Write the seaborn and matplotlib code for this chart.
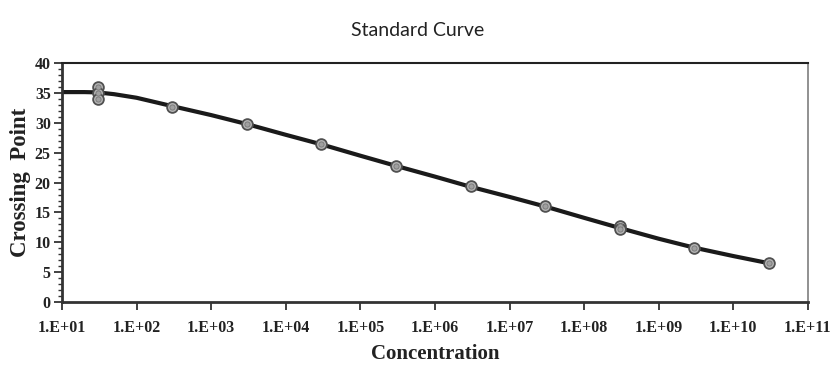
import matplotlib
matplotlib.use('Agg')
import matplotlib.pyplot as plt
import seaborn as sns
import numpy as np
import pandas as pd
from matplotlib.ticker import FixedLocator, MultipleLocator

# Measured standards (concentration, crossing point)
conc = [3e1, 3e1, 3e1, 3e2, 3e3, 3e4, 3e5, 3e6, 3e7, 3e8, 3e8, 3e9, 3e10]
cp = [36.0, 35.0, 34.0, 32.7, 29.8, 26.4, 22.7, 19.4, 16.0, 12.8, 12.2, 9.1, 6.6]

# Fitted curve
curve_x = [1e1, 2e1, 3e1, 5e1, 1e2, 3e2, 1e3, 3e3, 1e4, 3e4, 1e5, 3e5,
           1e6, 3e6, 1e7, 3e7, 1e8, 3e8, 1e9, 3e9, 1e10, 3e10]
curve_y = [35.15, 35.15, 35.1, 34.8, 34.2, 32.8, 31.3, 29.8, 28.0, 26.4, 24.5, 22.8,
           21.0, 19.3, 17.6, 16.0, 14.1, 12.4, 10.6, 9.1, 7.7, 6.5]

xticks = [10.0 ** k for k in range(1, 12)]
xlabels = ['1.E+%02d' % k for k in range(1, 12)]

df_pts = pd.DataFrame({'conc': conc, 'cp': cp})
df_fit = pd.DataFrame({'conc': curve_x, 'cp': curve_y})

sns.set_style('white')
serif = ['Liberation Serif', 'DejaVu Serif']

fig = plt.figure(figsize=(8.32, 3.67), dpi=100)
ax = fig.add_axes([0.0745, 0.177, 0.8965, 0.651])

sns.lineplot(data=df_fit, x='conc', y='cp', ax=ax, color='#1a1a1a', linewidth=3, zorder=2)
sns.scatterplot(data=df_pts, x='conc', y='cp', ax=ax, s=60, color='#b4b4b4',
                edgecolor='#505050', linewidth=1.3, zorder=3)
# inner ring of the markers
sns.scatterplot(data=df_pts, x='conc', y='cp', ax=ax, s=14, color='#a0a0a0',
                edgecolor='#777777', linewidth=0.6, zorder=4)

ax.set_xscale('log')
ax.set_xlim(1e1, 1e11)
ax.set_ylim(0, 40)
ax.xaxis.set_major_locator(FixedLocator(xticks))
ax.xaxis.set_minor_locator(FixedLocator([]))
ax.set_xticklabels(xlabels)
ax.yaxis.set_major_locator(MultipleLocator(5))
ax.yaxis.set_minor_locator(MultipleLocator(1))

ax.tick_params(axis='both', which='major', direction='out', length=6, width=1.3,
               color='#333333', labelsize=11.5, pad=2, left=True, bottom=True)
ax.tick_params(axis='y', which='minor', direction='out', length=3, width=1,
               color='#333333', left=True)
for lab in ax.get_xticklabels() + ax.get_yticklabels():
    lab.set_family(serif)
    lab.set_fontweight('bold')
    lab.set_color('#222222')
ax.tick_params(axis='x', pad=7)

for side in ['left', 'bottom']:
    ax.spines[side].set_color('#333333')
    ax.spines[side].set_linewidth(2)
ax.spines['top'].set_color('#222222')
ax.spines['top'].set_linewidth(1.5)
ax.spines['right'].set_color('#888888')
ax.spines['right'].set_linewidth(1.3)

ax.set_xlabel('Concentration', family=serif, fontweight='bold', fontsize=15,
              color='#222222', labelpad=6)
ax.set_ylabel('Crossing  Point', family=serif, fontweight='bold', fontsize=16.5,
              color='#222222', labelpad=3)
fig.text(0.502, 0.918, 'Standard Curve', ha='center', va='center', fontsize=14,
         family=['Lato', 'DejaVu Sans'], color='#222222')

fig.savefig('out.png', dpi=100)
